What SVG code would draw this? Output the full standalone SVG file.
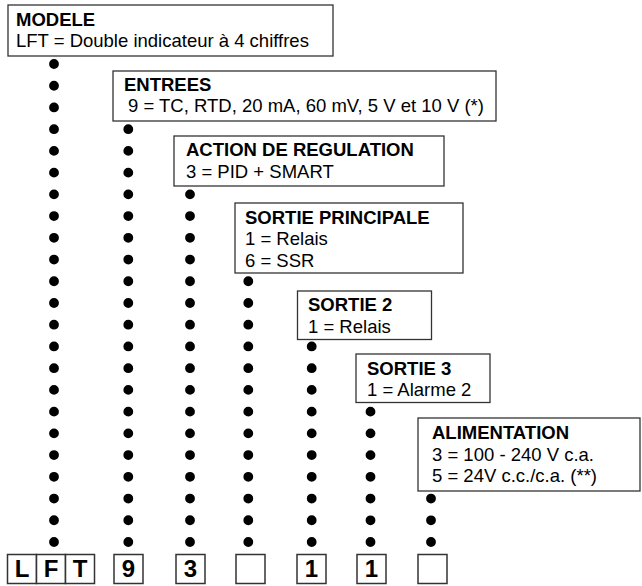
<svg xmlns="http://www.w3.org/2000/svg" xmlns:xlink="http://www.w3.org/1999/xlink" width="642" height="586" viewBox="0 0 642 586">
<style>
.box{fill:#fff;stroke:#333;stroke-width:1.3}
.t{font-family:"Liberation Sans",Arial,sans-serif;font-size:18.5px;fill:#000}
.h{font-weight:bold}
.code{fill:#fff;stroke:#333;stroke-width:1.5}
.ct{font-family:"Liberation Sans",Arial,sans-serif;font-size:24px;font-weight:bold;fill:#000;text-anchor:middle}
.dots{fill:none;stroke:#000;stroke-width:9.8;stroke-linecap:round;stroke-dasharray:0 21.727}
</style>
<rect width="642" height="586" fill="#fff"/>
<g id="connectors">
<path class="dots" d="M54,64 V542.5"/>
<path class="dots" d="M128.3,129.18 V542.5"/>
<path class="dots" d="M190,194.36 V542.5"/>
<path class="dots" d="M248.3,281.27 V542.5"/>
<path class="dots" d="M311.7,346.45 V542.5"/>
<path class="dots" d="M370.5,411.64 V542.5"/>
<path class="dots" d="M431,498.55 V542.5"/>
</g>
<g id="modele">
<rect class="box" x="8" y="5" width="325" height="51"/>
<text class="t h" x="16" y="26">MODELE</text>
<text class="t" x="16" y="47">LFT = Double indicateur à 4 chiffres</text>
</g>
<g id="entrees">
<rect class="box" x="113" y="71" width="383" height="50"/>
<text class="t h" x="124" y="91">ENTREES</text>
<text class="t" x="128" y="111.5">9 = TC, RTD, 20 mA, 60 mV, 5 V et 10 V (*)</text>
</g>
<g id="action">
<rect class="box" x="174" y="136" width="270" height="50"/>
<text class="t h" x="186" y="156">ACTION DE REGULATION</text>
<text class="t" x="186" y="178">3 = PID + SMART</text>
</g>
<g id="sortie-principale">
<rect class="box" x="235" y="203" width="228" height="70"/>
<text class="t h" x="245" y="223.5">SORTIE PRINCIPALE</text>
<text class="t" x="245" y="245">1 = Relais</text>
<text class="t" x="245" y="266.5">6 = SSR</text>
</g>
<g id="sortie-2">
<rect class="box" x="297.5" y="291" width="134" height="48.5"/>
<text class="t h" x="308" y="311">SORTIE 2</text>
<text class="t" x="308" y="333">1 = Relais</text>
</g>
<g id="sortie-3">
<rect class="box" x="356" y="354" width="134" height="48.5"/>
<text class="t h" x="367" y="374.5">SORTIE 3</text>
<text class="t" x="367" y="395.5">1 = Alarme 2</text>
</g>
<g id="alimentation">
<rect class="box" x="418" y="418" width="222" height="73"/>
<text class="t h" x="432" y="438.5">ALIMENTATION</text>
<text class="t" x="432" y="460.5">3 = 100 - 240 V c.a.</text>
<text class="t" x="432" y="482">5 = 24V c.c./c.a. (**)</text>
</g>
<g id="code">
<rect class="code" x="7.5" y="554.5" width="29" height="29"/>
<text class="ct" x="22" y="577">L</text>
<rect class="code" x="36.5" y="554.5" width="29" height="29"/>
<text class="ct" x="51" y="577">F</text>
<rect class="code" x="65.5" y="554.5" width="29" height="29"/>
<text class="ct" x="80" y="577">T</text>
<rect class="code" x="114" y="554.5" width="29" height="29"/>
<text class="ct" x="128.5" y="577">9</text>
<rect class="code" x="176" y="554.5" width="29" height="29"/>
<text class="ct" x="190.5" y="577">3</text>
<rect class="code" x="236" y="554.5" width="29" height="29"/>
<rect class="code" x="297" y="554.5" width="29" height="29"/>
<text class="ct" x="311.5" y="577">1</text>
<rect class="code" x="357" y="554.5" width="29" height="29"/>
<text class="ct" x="371.5" y="577">1</text>
<rect class="code" x="418" y="554.5" width="29" height="29"/>
</g>
</svg>
